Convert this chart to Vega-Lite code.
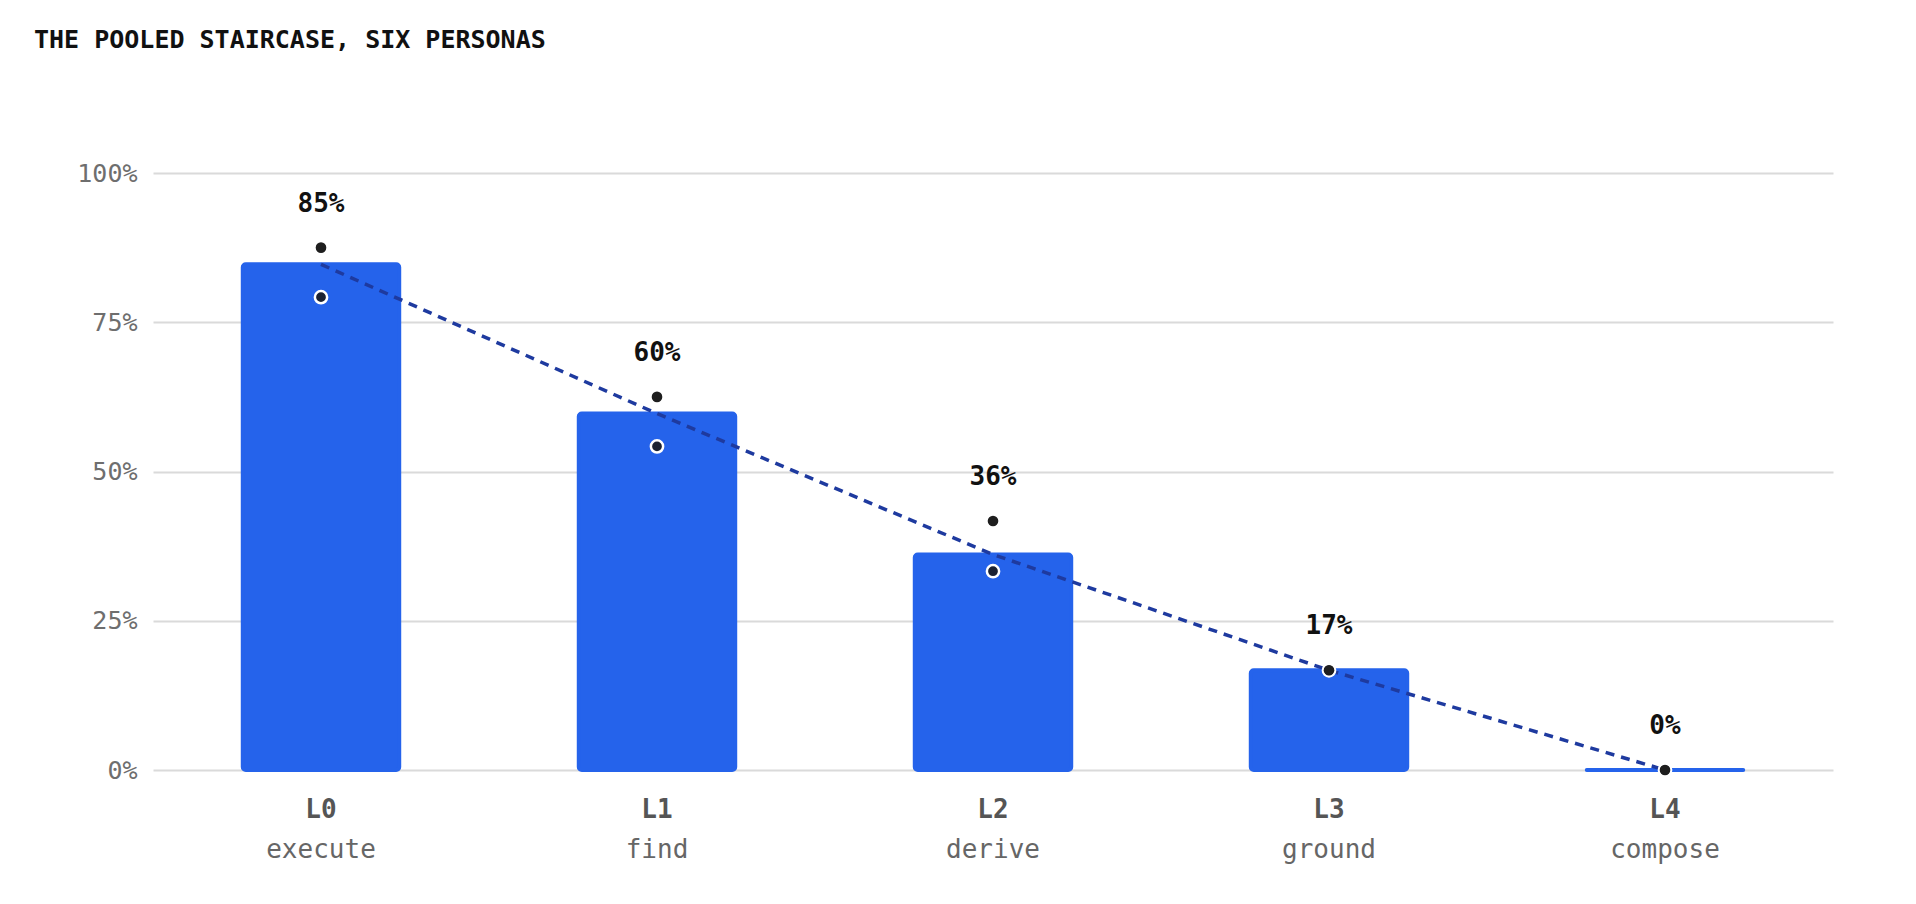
{
  "$schema": "https://vega.github.io/schema/vega-lite/v6.json",
  "width": 1680,
  "height": 597,
  "autosize": {"type": "none"},
  "padding": {"left": 153, "top": 173, "right": 83, "bottom": 134},
  "background": "white",
  "title": {
    "text": "THE POOLED STAIRCASE, SIX PERSONAS",
    "anchor": "start",
    "frame": "group",
    "font": "DejaVu Sans Mono",
    "fontSize": 25,
    "fontWeight": "bold",
    "color": "#111111",
    "offset": 0,
    "dx": -119,
    "dy": -108
  },
  "config": {
    "view": {"stroke": null},
    "font": "DejaVu Sans Mono"
  },
  "data": {
    "values": [
      {"stage": "L0 execute", "pooled": 0.847, "upper": 0.875, "lower": 0.792},
      {"stage": "L1 find", "pooled": 0.597, "upper": 0.625, "lower": 0.542},
      {"stage": "L2 derive", "pooled": 0.361, "upper": 0.417, "lower": 0.333},
      {"stage": "L3 ground", "pooled": 0.167, "upper": 0.167, "lower": 0.167},
      {"stage": "L4 compose", "pooled": 0.0, "upper": 0.0, "lower": 0.0}
    ]
  },
  "resolve": {"axis": {"x": "independent"}},
  "layer": [
    {
      "mark": {"type": "bar", "color": "#2563eb", "stroke": "#2563eb", "strokeWidth": 4, "strokeJoin": "round", "cornerRadius": 3, "width": {"band": 0.97}},
      "encoding": {
        "x": {
          "field": "stage", "type": "nominal", "sort": null, "title": null,
          "scale": {"paddingInner": 0.52, "paddingOuter": 0.26},
          "axis": {
            "orient": "bottom",
            "domain": false, "ticks": false, "tickSize": 0, "labelAngle": 0,
            "labelExpr": "split(datum.value, ' ')[0]",
            "labelFont": "DejaVu Sans Mono", "labelFontSize": 26, "labelFontWeight": "bold",
            "labelColor": "#555555", "labelPadding": 26
          }
        },
        "y": {
          "field": "pooled", "type": "quantitative", "title": null,
          "scale": {"domain": [0, 1], "nice": false},
          "axis": {
            "values": [0, 0.25, 0.5, 0.75, 1], "format": ".0%",
            "domain": false, "ticks": false, "tickSize": 0,
            "gridColor": "#dadada", "gridWidth": 2,
            "labelFont": "DejaVu Sans Mono", "labelFontSize": 25, "labelColor": "#6e6e6e",
            "labelPadding": 16
          }
        }
      }
    },
    {
      "mark": {"type": "line", "color": "#1e3a9f", "strokeWidth": 3.5, "strokeDash": [9, 7]},
      "encoding": {
        "x": {
          "field": "stage", "type": "nominal", "sort": null, "title": null,
          "axis": {
            "orient": "bottom",
            "domain": false, "ticks": false, "tickSize": 0, "grid": false, "labelAngle": 0,
            "labelExpr": "split(datum.value, ' ')[1]",
            "labelFont": "DejaVu Sans Mono", "labelFontSize": 26,
            "labelColor": "#666666", "labelPadding": 66
          }
        },
        "y": {"field": "pooled", "type": "quantitative", "title": null}
      }
    },
    {
      "mark": {"type": "point", "shape": "circle", "filled": true, "color": "#1b2233", "stroke": "white", "strokeWidth": 2.5, "size": 150, "opacity": 1},
      "encoding": {
        "x": {"field": "stage", "type": "nominal", "sort": null, "axis": null},
        "y": {"field": "lower", "type": "quantitative", "title": null}
      }
    },
    {
      "mark": {"type": "point", "shape": "circle", "filled": true, "color": "#1e1e1e", "size": 113, "opacity": 1},
      "encoding": {
        "x": {"field": "stage", "type": "nominal", "sort": null, "axis": null},
        "y": {"field": "upper", "type": "quantitative", "title": null}
      }
    },
    {
      "mark": {"type": "text", "font": "DejaVu Sans Mono", "fontSize": 26, "fontWeight": "bold", "color": "#111111", "baseline": "middle", "dy": -44},
      "encoding": {
        "x": {"field": "stage", "type": "nominal", "sort": null, "axis": null},
        "y": {"field": "upper", "type": "quantitative", "title": null},
        "text": {"field": "pooled", "type": "quantitative", "format": ".0%"}
      }
    }
  ]
}
